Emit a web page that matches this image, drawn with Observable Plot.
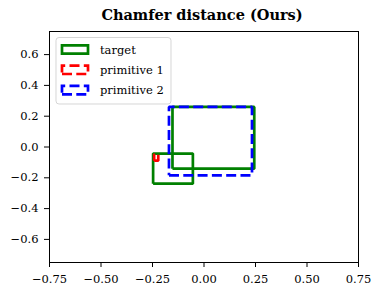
<!DOCTYPE html>
<html><head><meta charset="utf-8">
<script src="https://cdn.jsdelivr.net/npm/d3@7"></script>
<script src="https://cdn.jsdelivr.net/npm/@observablehq/plot@0.6"></script>
<style>
body{margin:0;background:#fff;}
#wrap{position:relative;width:380px;height:295px;font-family:"DejaVu Serif",serif;background:#fff;}
#title{position:absolute;left:0;width:404px;top:5px;text-align:center;font-weight:bold;font-size:14.5px;line-height:20px;color:#000;}
#chart{position:absolute;left:0;top:30px;}
#legend{position:absolute;left:0;top:0;pointer-events:none;}
</style></head>
<body>
<div id="wrap">
  <div id="chart"></div>
  <div id="title">Chamfer distance (Ours)</div>
  <svg id="legend" width="380" height="295"></svg>
</div>
<script>
// ---- data ----
const targetX0 = [-0.247, -0.153];
const targetX1 = [-0.054, 0.244];
const targetY0 = [-0.238, -0.141];
const targetY1 = [-0.043, 0.260];

const prim1X0 = [-0.242];
const prim1X1 = [-0.222];
const prim1Y0 = [-0.089];
const prim1Y1 = [-0.047];

const prim2X0 = [-0.170];
const prim2X1 = [0.233];
const prim2Y0 = [-0.184];
const prim2Y1 = [0.260];

const xTicks = [-0.75, -0.5, -0.25, 0, 0.25, 0.5, 0.75];
const yTicks = [-0.6, -0.4, -0.2, 0, 0.2, 0.4, 0.6];
const legendLabels = ["target", "primitive 1", "primitive 2"];

// rectangle outline path (matplotlib order: start bottom-left, counter-clockwise)
function outline(x0s, x1s, y0s, y1s) {
  const pts = [];
  x0s.forEach((_, i) => {
    const x0 = x0s[i], x1 = x1s[i], y0 = y0s[i], y1 = y1s[i];
    pts.push({id: i, x: x0, y: y0}, {id: i, x: x1, y: y0}, {id: i, x: x1, y: y1}, {id: i, x: x0, y: y1}, {id: i, x: x0, y: y0});
  });
  return pts;
}
const minus = v => (v < 0 ? "\u2212" : "");
const fmt2 = d => minus(d) + Math.abs(d).toFixed(2);
const fmt1 = d => minus(d) + Math.abs(d).toFixed(1);

const LW = 2.7, DASH = "10,4.3";
const common = {x: "x", y: "y", z: "id", strokeWidth: LW, strokeLinejoin: "miter", strokeLinecap: "butt", fill: "none"};

const chart = Plot.plot({
  width: 380, height: 265,
  marginTop: 1, marginBottom: 33, marginLeft: 49, marginRight: 22,
  x: {domain: [-0.75, 0.75]},
  y: {domain: [-0.75, 0.75]},
  style: {fontFamily: "DejaVu Serif", fontSize: "11.5px", color: "black", background: "white", overflow: "visible"},
  marks: [
    Plot.line(outline(targetX0, targetX1, targetY0, targetY1), {...common, stroke: "green"}),
    Plot.line(outline(prim1X0, prim1X1, prim1Y0, prim1Y1), {...common, stroke: "red", strokeDasharray: DASH}),
    Plot.line(outline(prim2X0, prim2X1, prim2Y0, prim2Y1), {...common, stroke: "blue", strokeDasharray: DASH}),
    Plot.frame({stroke: "black", strokeWidth: 1}),
    Plot.axisX({ticks: xTicks, tickFormat: fmt2, tickSize: 5, tickPadding: 7, label: null}),
    Plot.axisY({ticks: yTicks, tickFormat: fmt1, tickSize: 5, tickPadding: 6, label: null})
  ]
});
document.getElementById("chart").appendChild(chart);

// ---- legend (layout overlay) ----
const lg = d3.select("#legend");
lg.append("rect").attr("x", 56).attr("y", 37.5).attr("width", 115).attr("height", 66.5)
  .attr("rx", 3).attr("fill", "rgba(255,255,255,0.8)").attr("stroke", "rgba(204,204,204,0.8)").attr("stroke-width", 1);
const styles = [
  {stroke: "green", dash: null},
  {stroke: "red", dash: DASH},
  {stroke: "blue", dash: DASH}
];
legendLabels.forEach((lab, i) => {
  const cy = 49.5 + i * 20.3;
  const x0 = 62, x1 = 88, y0 = cy + 4.2, y1 = cy - 4.2;
  lg.append("path").attr("d", `M${x0},${y0}L${x1},${y0}L${x1},${y1}L${x0},${y1}Z`)
    .attr("fill", "none").attr("stroke", styles[i].stroke).attr("stroke-width", LW)
    .attr("stroke-linejoin", "miter").attr("stroke-dasharray", styles[i].dash);
  lg.append("text").attr("x", 100).attr("y", cy).attr("dy", "0.35em")
    .attr("font-family", "DejaVu Serif").attr("font-size", 11.5).attr("fill", "#000").text(lab);
});
</script>
</body></html>
